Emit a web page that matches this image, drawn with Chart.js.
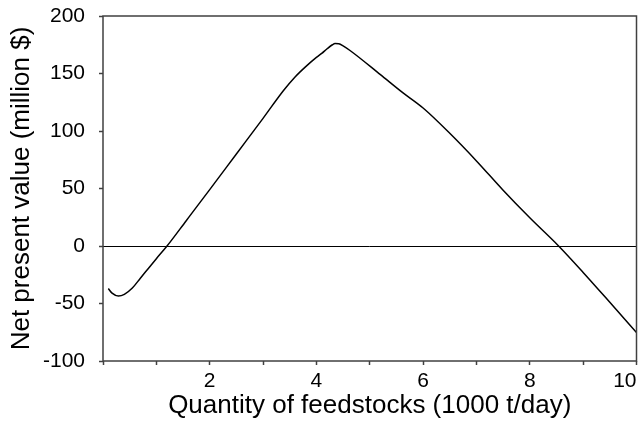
<!DOCTYPE html>
<html>
<head>
<meta charset="utf-8">
<script src="https://cdn.jsdelivr.net/npm/chart.js@4/dist/chart.umd.min.js"></script>
<style>
  html, body { margin: 0; padding: 0; background: #fff; }
  #wrap { width: 640px; height: 423px; position: relative; }
</style>
</head>
<body>
<div id="wrap"><canvas id="c" width="640" height="423"></canvas></div>
<script>
// Quantity of feedstocks (1000 t/day)
const quantity = [0.1, 0.17, 0.29, 0.4, 0.55, 0.7, 0.85, 1.0, 1.2, 1.56, 2.0, 2.5, 3.0, 3.38, 3.6, 3.8, 4.0, 4.1, 4.2, 4.3, 4.35, 4.42, 4.5, 4.63, 5.2, 5.6, 6.0, 6.5, 7.0, 7.5, 8.0, 8.54, 9.0, 9.5, 10.0];
// Net present value (million $)
const npv = [-37, -41, -43.5, -42, -36.5, -28, -19.5, -11, 0, 22, 49, 80, 111, 135, 147, 156, 164, 167.5, 171.5, 175, 176, 175.8, 174, 170, 149, 134, 120, 98, 74, 48.5, 24.5, 0, -23, -49, -75.3];
const yTicks = [-100, -50, 0, 50, 100, 150, 200];
const xLabelTicks = [2, 4, 6, 8, 10];

const FONT = "'Liberation Sans', Arial, sans-serif";

const framePlugin = {
  id: 'frame',
  afterDatasetsDraw(chart) {
    const a = chart.chartArea, ctx = chart.ctx;
    ctx.save();
    ctx.strokeStyle = '#404040';
    ctx.lineWidth = 1.5;
    ctx.strokeRect(a.left, a.top, a.right - a.left, a.bottom - a.top);
    ctx.restore();
  }
};

new Chart(document.getElementById('c'), {
  type: 'line',
  data: {
    datasets: [{
      data: quantity.map((q, i) => ({ x: q, y: npv[i] })),
      borderColor: '#000',
      borderWidth: 1.5,
      pointRadius: 0,
      fill: false,
      cubicInterpolationMode: 'monotone'
    }]
  },
  options: {
    responsive: false,
    animation: false,
    devicePixelRatio: 1,
    layout: { padding: { top: 16, right: 3.5, left: 0, bottom: 0 } },
    plugins: { legend: { display: false }, tooltip: { enabled: false } },
    scales: {
      x: {
        type: 'linear',
        min: 0, max: 10,
        afterFit(s) { s.height = 62; s.paddingRight = 0; s.paddingLeft = 0; },
        border: { display: false },
        grid: { drawOnChartArea: false, drawTicks: true, tickLength: 4, tickColor: '#404040', tickWidth: 1.5 },
        ticks: {
          stepSize: 1, autoSkip: false, maxRotation: 0, align: 'inner',
          padding: 4, color: '#000',
          font: { family: FONT, size: 21 },
          callback: v => xLabelTicks.includes(v) ? String(v) : ''
        },
        title: {
          display: true, text: 'Quantity of feedstocks (1000 t/day)', color: '#000',
          font: { family: FONT, size: 26, lineHeight: 1 },
          padding: { top: 0, bottom: 4 }
        }
      },
      y: {
        min: -100, max: 200,
        afterFit(s) { s.width = 103; s.paddingTop = 0; s.paddingBottom = 0; },
        afterBuildTicks(s) { s.ticks = yTicks.map(v => ({ value: v })); },
        border: { display: false },
        grid: {
          drawOnChartArea: true, drawTicks: true, tickLength: 4,
          tickColor: '#404040', tickWidth: 1.5,
          color: ctx => (ctx.tick && ctx.tick.value === 0) ? '#000' : 'rgba(0,0,0,0)',
          lineWidth: 1
        },
        ticks: {
          padding: 14, color: '#000',
          font: { family: FONT, size: 21 }
        },
        title: {
          display: true, text: 'Net present value (million $)', color: '#000',
          font: { family: FONT, size: 26, lineHeight: 1 },
          padding: { top: 9, bottom: 0 }
        }
      }
    }
  },
  plugins: [framePlugin]
});
</script>
</body>
</html>
